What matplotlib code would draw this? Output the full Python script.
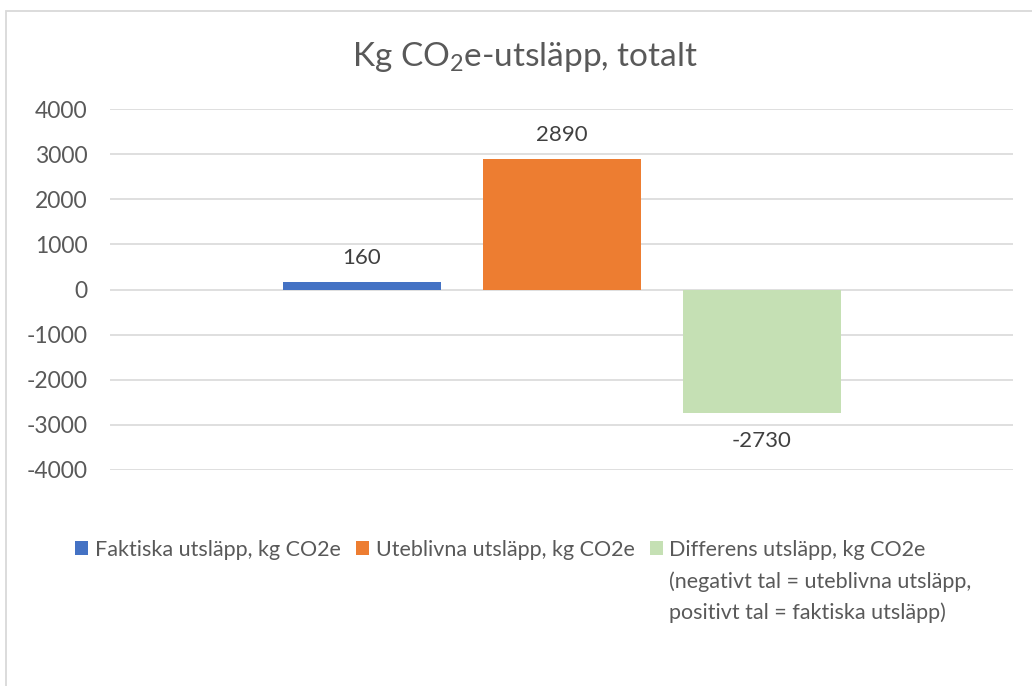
import matplotlib
matplotlib.use("Agg")
import matplotlib.pyplot as plt
from matplotlib.patches import Rectangle

plt.rcParams['font.family'] = ['Lato', 'DejaVu Sans']
plt.rcParams['mathtext.fontset'] = 'custom'
plt.rcParams['mathtext.rm'] = 'Lato'
plt.rcParams['axes.unicode_minus'] = False

# ---- data ----
title_text = "Kg CO$_\\mathregular{2}$e-utsläpp, totalt"
series_names = ["Faktiska utsläpp, kg CO2e",
                "Uteblivna utsläpp, kg CO2e",
                "Differens utsläpp, kg CO2e"]
series_extra = ["(negativt tal = uteblivna utsläpp,",
                "positivt tal = faktiska utsläpp)"]
series_values = [160, 2890, -2730]
series_colors = ["#4472C4", "#ED7D31", "#C5E0B4"]
y_ticks = [-4000, -3000, -2000, -1000, 0, 1000, 2000, 3000, 4000]

W, H = 1032, 686
fig = plt.figure(figsize=(W / 100, H / 100), dpi=100)
fig.patch.set_facecolor("white")

# chart border (extends beyond the image on right/bottom)
border = Rectangle((6 / W, -0.1), 1.2, 1 - 11 / H + 0.1, transform=fig.transFigure,
                   fill=False, edgecolor="#d9d9d9", linewidth=1.3, zorder=0)
fig.patches.append(border)

ax = fig.add_axes([110 / W, 1 - 470 / H, 903 / W, 361 / H])
ax.set_ylim(-4000, 4000)
ax.set_xlim(-0.5, 0.5)
ax.set_yticks(y_ticks)
ax.set_xticks([])
for s in ax.spines.values():
    s.set_visible(False)
ax.tick_params(axis='y', length=0, pad=16, labelsize=16.5, labelcolor="#595959")
ax.yaxis.grid(True, color="#d9d9d9", linewidth=1.2)
ax.set_axisbelow(True)

n = len(series_values)
bar_w = 158 / 903
step = 200 / 903
containers = []
for i, (name, val, col) in enumerate(zip(series_names, series_values, series_colors)):
    x = (i - (n - 1) / 2) * step
    c = ax.bar([x], [val], width=bar_w, color=col, label=name, zorder=2)
    containers.append(c)
    ax.bar_label(c, labels=[f"{val}"], padding=10 if val >= 0 else 13,
                 fontsize=16, color="#404040")

fig.text(524.5 / W, 1 - 66 / H, title_text, ha="center", va="baseline",
         fontsize=24, color="#595959")

leg = fig.legend(handles=containers, labels=series_names, ncol=3, frameon=False,
                 loc="upper left", bbox_to_anchor=(75 / W, 1 - 540 / H),
                 fontsize=15.5, handlelength=0.62, handleheight=0.62,
                 handletextpad=0.3, columnspacing=0.7, borderpad=0, borderaxespad=0)
for t in leg.get_texts():
    t.set_color("#595959")

fig.canvas.draw()
bb = leg.get_texts()[2].get_window_extent()
x0 = bb.x0 / W
for k, line in enumerate(series_extra):
    fig.text(x0, 1 - (588 + 31 * k) / H, line, ha="left", va="baseline",
             fontsize=15.5, color="#595959")

fig.savefig("out.png", dpi=100, facecolor="white")
